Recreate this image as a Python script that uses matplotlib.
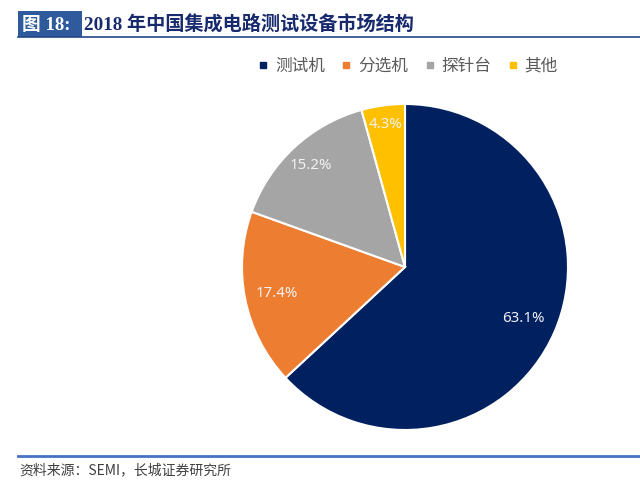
import numpy as np
import matplotlib.pyplot as plt
from matplotlib.lines import Line2D
from matplotlib.patches import Rectangle

plt.rcParams['font.family'] = ['Noto Sans CJK SC', 'DejaVu Sans']

# data
categories = ['测试机', '分选机', '探针台', '其他']
shares = [63.1, 17.4, 15.2, 4.3]
colors = ['#002060', '#ED7D31', '#A5A5A5', '#FFC000']
label_dist = [0.79, 0.80, 0.85, 0.88]

W, H = 640, 492
fig = plt.figure(figsize=(6.4, 4.92), dpi=100)

# title bar
fig.add_artist(Rectangle((18 / W, 1 - 37 / H), 64 / W, 26 / H, transform=fig.transFigure,
                         facecolor='#2F5B9C', edgecolor='none'))
fig.add_artist(Line2D([18 / W, 1], [1 - 36.5 / H] * 2, transform=fig.transFigure,
                      color='#24488A', lw=1.2))
fig.text(22 / W, 1 - 25 / H, '图 18:', color='white', fontsize=13.5, fontweight='bold',
         family=['Liberation Serif', 'Noto Sans CJK SC'], va='center', ha='left')
fig.text(84 / W, 1 - 25 / H, '2018 年中国集成电路测试设备市场结构', color='#172A6E',
         fontsize=13.8, fontweight='bold', family=['Liberation Serif', 'Noto Sans CJK SC'],
         va='center', ha='left')

# footer
fig.add_artist(Line2D([18 / W, 1], [1 - 456 / H] * 2, transform=fig.transFigure,
                      color='#4472C4', lw=2))
fig.text(19 / W, 1 - 470 / H, '资料来源：SEMI，长城证券研究所', color='#404040', fontsize=10,
         style='italic', family=['Noto Sans CJK SC', 'Liberation Serif'],
         va='center', ha='left')

# pie
r = 163
cx, cy = 405, 267
ax = fig.add_axes([(cx - r) / W, (H - cy - r) / H, 2 * r / W, 2 * r / H])
wedges, texts, autotexts = ax.pie(shares, colors=colors, startangle=90, counterclock=False,
                                  autopct='%1.1f%%', pctdistance=0.8,
                                  wedgeprops=dict(edgecolor='white', linewidth=1.5),
                                  textprops=dict(color='#F2F2F2', fontsize=10.8, family='Noto Sans'))
for w, t, d in zip(wedges, autotexts, label_dist):
    ang = np.deg2rad((w.theta1 + w.theta2) / 2)
    t.set_position((d * np.cos(ang), d * np.sin(ang)))
ax.set_xlim(-1, 1)
ax.set_ylim(-1, 1)
ax.set_aspect('equal')
ax.axis('off')

# legend
handles = [Line2D([], [], marker='s', ls='none', color=c, markersize=5) for c in colors]
fig.legend(handles, categories, loc='center', bbox_to_anchor=(408 / W, 1 - 66 / H), ncol=4,
           frameon=False, fontsize=12, handlelength=0.6, handletextpad=0.4,
           columnspacing=1.0, labelcolor='#595959')

fig.savefig('out.png', dpi=100)
